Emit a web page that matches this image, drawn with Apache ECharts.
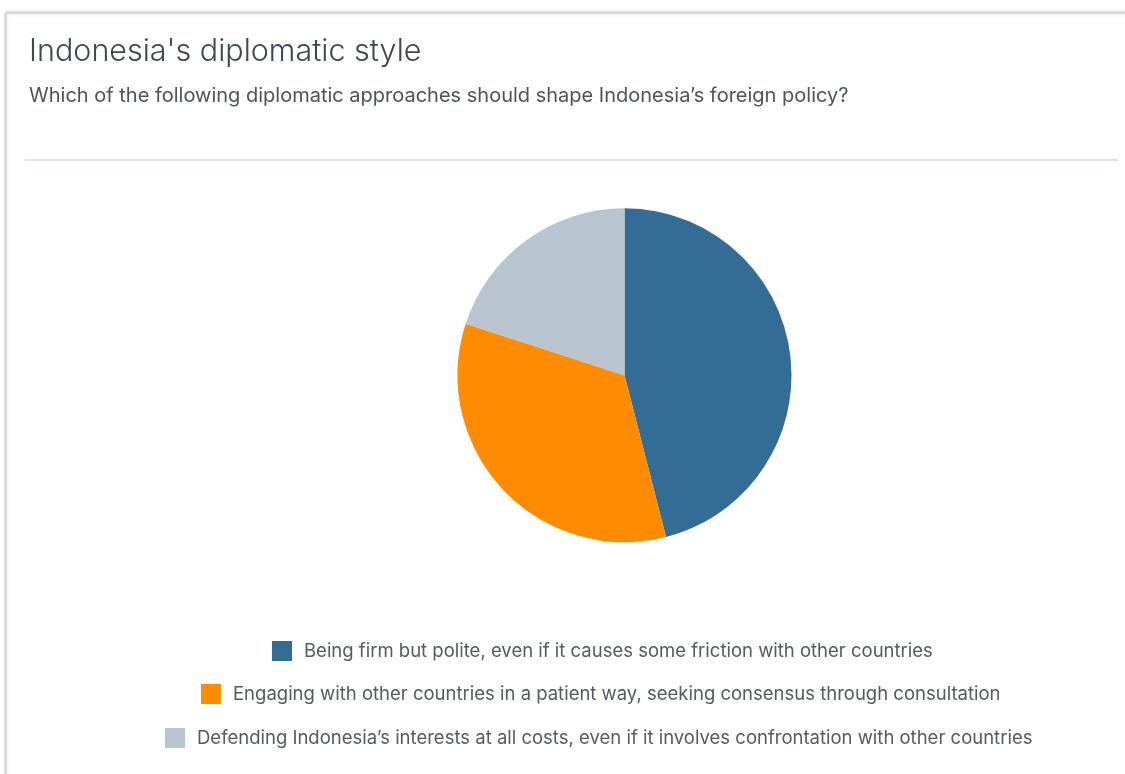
<!DOCTYPE html>
<html>
	<head>
		<meta charset="UTF-8">
		<title></title>
		<script src="https://cdn.jsdelivr.net/npm/echarts@6/dist/echarts.min.js" type="text/javascript" charset="utf-8"></script>
		<style>
			body { margin: 0; background: #fff; }
		</style>
	</head>
	<body>
		<div id="chart" style="width:1125px;height:774px;"></div>
	</body>
	<script type="text/javascript">
		// 数据
		var categories = [
			'Being firm but polite, even if it causes some friction with other countries',
			'Engaging with other countries in a patient way, seeking consensus through consultation',
			'Defending Indonesia\u2019s interests at all costs, even if it involves confrontation with other countries'
		];
		var values = [46, 34, 20];
		var colors = ['#336d96', '#ff8c00', '#b9c4d1'];

		var chart = echarts.init(document.getElementById('chart'));

		// 每行图例单独居中
		var legendTops = [641, 684, 728];
		var legendLefts = [272, 201, 165];
		var legends = categories.map(function (name, i) {
			return {
				data: [name],
				left: legendLefts[i],
				top: legendTops[i],
				padding: 0,
				icon: 'rect',
				itemWidth: 20,
				itemHeight: 20,
				itemGap: 0,
				selectedMode: false,
				textStyle: { fontFamily: 'Inter', fontSize: 18.5, color: '#555b63', padding: [0, 0, 0, 7] }
			};
		});

		chart.setOption({
			color: colors,
			title: {
				text: 'Indonesia\'s diplomatic style',
				subtext: 'Which of the following diplomatic approaches should shape Indonesia\u2019s foreign policy?',
				left: 24,
				top: 31,
				itemGap: 19,
				textStyle: { fontFamily: 'Inter', fontSize: 30.5, fontWeight: 300, color: '#3e4753' },
				subtextStyle: { fontFamily: 'Inter', fontSize: 20, color: '#4d545c' }
			},
			legend: legends,
			graphic: [
				{
					type: 'rect',
					shape: { x: 6, y: 13, width: 1200, height: 800 },
					style: { fill: '#fff', stroke: '#c8c8c8', lineWidth: 1, shadowBlur: 4, shadowColor: 'rgba(0,0,0,0.25)' },
					z: -10
				},
				{
					type: 'line',
					shape: { x1: 25, y1: 160, x2: 1118, y2: 160 },
					style: { stroke: '#dce3ea', lineWidth: 2 }
				}
			],
			series: [{
				type: 'pie',
				center: [624.5, 375.3],
				radius: 167,
				startAngle: 90,
				clockwise: true,
				label: { show: false },
				labelLine: { show: false },
				itemStyle: { borderWidth: 0 },
				emphasis: { disabled: true },
				data: categories.map(function (name, i) {
					return { name: name, value: values[i] };
				})
			}]
		});
	</script>
</html>
